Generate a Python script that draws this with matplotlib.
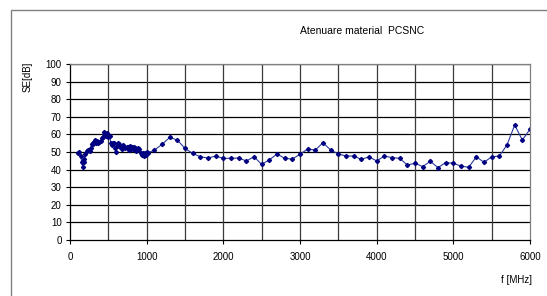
import numpy as np
import matplotlib.pyplot as plt
from matplotlib.patches import Rectangle

plt.rcParams['font.family'] = ['Liberation Sans', 'DejaVu Sans']

# frequency [MHz] and attenuation SE [dB]
freq = [109, 122, 139, 152, 165, 183, 187, 200, 217, 239, 261, 270, 283, 296, 304,
        313, 326, 339, 348, 369, 382, 400, 413, 426, 443, 456, 470, 487, 500, 522,
        530, 543, 556, 574, 587, 600, 617, 630, 643, 652, 661, 674, 687, 696, 709,
        722, 739, 752, 765, 774, 783, 796, 809, 826, 835, 848, 861, 878, 891, 904,
        922, 935, 948, 961, 978, 991, 1009, 1022,
        1100, 1200, 1300, 1400, 1500, 1600, 1700, 1800, 1900, 2000, 2100, 2200,
        2300, 2400, 2500, 2600, 2700, 2800, 2900, 3000, 3100, 3200, 3300, 3400,
        3500, 3600, 3700, 3800, 3900, 4000, 4100, 4200, 4300, 4400, 4500, 4600,
        4700, 4800, 4900, 5000, 5100, 5200, 5300, 5400, 5500, 5600, 5700, 5800,
        5900, 6000]
se_db = [49.2, 50.2, 47.7, 44.5, 41.7, 44.5, 45.8, 48.7, 50.8, 51.1, 50.8, 52.1, 54.5, 55.3, 54.5,
         55.9, 56.8, 55.3, 56.3, 54.9, 55.9, 56.4, 57.8, 58.7, 61.5, 60.2, 59.1, 60.6, 58.7, 59.1,
         54.9, 54.0, 55.3, 54.9, 52.1, 50.2, 53.4, 54.9, 54.5, 53.0, 53.4, 51.5, 53.0, 54.0, 52.7,
         52.1, 52.7, 53.0, 51.1, 52.1, 53.4, 51.5, 52.7, 51.5, 53.0, 52.1, 50.8, 51.5, 52.1, 51.5,
         49.6, 48.3, 49.2, 47.7, 49.2, 48.3, 50.2, 49.6,
         51.1, 54.3, 58.3, 56.8, 52.0, 49.2, 47.3, 46.6, 47.7, 46.4, 46.4, 46.6,
         44.9, 47.3, 43.0, 45.5, 48.9, 46.4, 46.0, 48.7, 51.7, 51.1, 55.3, 51.1,
         48.9, 47.7, 47.7, 45.8, 47.3, 44.9, 47.7, 46.8, 46.4, 42.6, 43.6, 41.7,
         44.7, 41.1, 44.0, 43.6, 42.0, 41.3, 47.3, 44.1, 47.3, 47.7, 54.0, 65.3,
         56.8, 62.9]

x_ticks = [0, 1000, 2000, 3000, 4000, 5000, 6000]
y_ticks = [0, 10, 20, 30, 40, 50, 60, 70, 80, 90, 100]

fig = plt.figure(figsize=(5.47, 2.96), dpi=100)
# chart frame, cut off at the right and bottom edges of the picture
fig.patches.append(Rectangle((11 / 547, -0.1), 1.2, 1.1 - 10 / 296,
                             transform=fig.transFigure, fill=False,
                             edgecolor='#808080', lw=1.0))

ax = fig.add_axes([70 / 547, 1 - 240 / 296, 460 / 547, 176 / 296])
ax.plot(freq, se_db, color='#2a3a9a', lw=0.8, marker='D', ms=2.1,
        mec='#000080', mfc='#000080')

ax.set_xlim(0, 6000)
ax.set_ylim(0, 100)
ax.set_xticks(x_ticks)
ax.set_yticks(y_ticks)
ax.tick_params(axis='both', which='major', labelsize=7, length=3, width=0.8,
               direction='out', color='black')
ax.tick_params(axis='x', pad=6)
ax.tick_params(axis='y', pad=3)

for v in y_ticks[1:]:
    ax.axhline(v, color='black', lw=0.9, zorder=0)
for v in range(500, 6000, 500):
    ax.axvline(v, color='#3a3a3a', lw=0.9, zorder=0)

ax.spines['left'].set_color('black')
ax.spines['bottom'].set_color('black')
ax.spines['top'].set_color('#808080')
ax.spines['right'].set_color('#808080')
for s in ax.spines.values():
    s.set_linewidth(0.9)

fig.text(362 / 547, 1 - 31 / 296, 'Atenuare material  PCSNC', ha='center',
         va='center', fontsize=7.5)
fig.text(28 / 547, 1 - 77 / 296, 'SE[dB]', rotation=90, ha='center',
         va='center', fontsize=7)
fig.text(532 / 547, 1 - 280 / 296, 'f [MHz]', ha='right', va='center',
         fontsize=7)

fig.savefig('out.png', dpi=100)
